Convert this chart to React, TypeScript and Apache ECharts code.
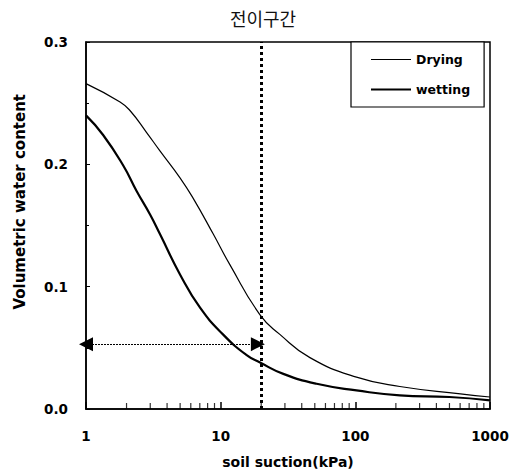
import React, { useEffect, useRef } from "react";
import * as echarts from "echarts";

const titleText = "전이구간";
const xTickLabels = [1, 10, 100, 1000];
const yTicks = [0, 0.1, 0.2, 0.3];

const dryingData: [number, number][] = [
  [1, 0.266], [1.79, 0.251], [2.12, 0.244], [2.82, 0.226], [3.54, 0.211],
  [4.99, 0.189], [6.27, 0.172], [8.81, 0.143], [11.7, 0.118], [19.6, 0.077],
  [27.5, 0.061], [46, 0.042], [102, 0.026], [214, 0.0184], [603, 0.0124],
  [1000, 0.0098],
];

const wettingData: [number, number][] = [
  [1, 0.240], [1.34, 0.224], [1.89, 0.199], [2.38, 0.178], [2.99, 0.159],
  [3.54, 0.143], [4.99, 0.110], [7.01, 0.083], [10.4, 0.061], [15.6, 0.044],
  [19.6, 0.038], [29.2, 0.0287], [51.6, 0.0206], [102, 0.0152], [214, 0.0111],
  [500, 0.0098], [1000, 0.0071],
];

const minorTickPositions = [2, 3, 4, 5, 6, 7, 8, 9, 20, 30, 40, 50, 60, 70, 80, 90, 200, 300, 400, 500, 600, 700, 800, 900];
const transitionLimit = 20;
const arrowRange: [number, number] = [1, 18.9];
const arrowLevel = 0.053;

const FONT = "'DejaVu Sans', sans-serif";

export default function App() {
  const ref = useRef<HTMLDivElement>(null);
  useEffect(() => {
    if (!ref.current) return;
    const chart = echarts.init(ref.current, undefined, { renderer: "svg" });
    chart.setOption({
      animation: false,
      backgroundColor: "#fff",
      title: {
        text: titleText,
        left: 258,
        top: 4,
        textAlign: "center",
        textStyle: { fontFamily: "'Noto Sans CJK KR', sans-serif", fontSize: 18, fontWeight: "normal", color: "#111" },
      },
      grid: { left: 86, right: 25, top: 42, bottom: 62, show: true, borderColor: "#000", borderWidth: 1.5, backgroundColor: "transparent" },
      legend: {
        orient: "vertical",
        left: 351,
        top: 42,
        padding: [11, 14, 11, 20],
        itemGap: 17,
        itemWidth: 40,
        itemHeight: 10,
        borderColor: "#000",
        borderWidth: 1.2,
        backgroundColor: "#fff",
        data: [
          { name: "Drying", icon: "path://M0,0 L40,0 L40,1.2 L0,1.2 Z" },
          { name: "wetting", icon: "path://M0,0 L40,0 L40,2.2 L0,2.2 Z" },
        ],
        textStyle: { fontFamily: FONT, fontWeight: "bold", fontSize: 12.5, color: "#000" },
      },
      xAxis: {
        type: "log",
        logBase: 10,
        min: 1,
        max: 1000,
        name: "soil suction(kPa)",
        nameLocation: "middle",
        nameGap: 46,
        nameTextStyle: { fontFamily: FONT, fontWeight: "bold", fontSize: 14, color: "#000" },
        axisLine: { lineStyle: { color: "#000", width: 1.5 } },
        axisTick: { inside: true, length: 7, lineStyle: { color: "#000", width: 1.5 } },
        axisLabel: {
          margin: 20,
          fontFamily: FONT, fontWeight: "bold", fontSize: 13.5, color: "#000",
          formatter: (v: number) => (xTickLabels.includes(Math.round(v)) ? String(Math.round(v)) : ""),
        },
        splitLine: { show: false },
      },
      yAxis: {
        type: "value",
        min: 0,
        max: 0.3,
        interval: 0.1,
        axisLine: { lineStyle: { color: "#000", width: 1.5 } },
        axisTick: { inside: true, length: 4, lineStyle: { color: "#000" } },
        minorTick: { show: true, splitNumber: 2, length: 3, lineStyle: { color: "#000" } },
        axisLabel: {
          margin: 18,
          fontFamily: FONT, fontWeight: "bold", fontSize: 13.5, color: "#000",
          formatter: (v: number) => (yTicks.some((t) => Math.abs(t - v) < 1e-9) ? v.toFixed(1) : ""),
        },
        splitLine: { show: false },
      },
      graphic: [
        {
          type: "text",
          left: 12,
          top: 94,
          rotation: Math.PI / 2,
          style: { text: "Volumetric water content", fontFamily: FONT, fontWeight: "bold", fontSize: 15, fill: "#000" },
        },
      ],
      series: [
        {
          name: "Drying",
          type: "line",
          data: dryingData,
          smooth: true,
          showSymbol: false,
          symbol: "none",
          lineStyle: { color: "#000", width: 1.2 },
          itemStyle: { color: "#000" },
          markLine: {
            silent: true,
            symbol: ["none", "none"],
            label: { show: false },
            lineStyle: { color: "#000", type: [3, 3], width: 3 },
            data: [{ xAxis: transitionLimit }],
          },
        },
        {
          name: "wetting",
          type: "line",
          data: wettingData,
          smooth: true,
          showSymbol: false,
          symbol: "none",
          lineStyle: { color: "#000", width: 2.2 },
          itemStyle: { color: "#000" },
          markLine: {
            silent: true,
            symbol: ["triangle", "triangle"],
            symbolSize: [14, 14],
            label: { show: false },
            lineStyle: { color: "#000", type: [2, 1], width: 1 },
            data: [[{ coord: [arrowRange[0], arrowLevel] }, { coord: [arrowRange[1], arrowLevel] }]],
          },
        },
        {
          name: "minorTicks",
          type: "scatter",
          data: minorTickPositions.map((p) => [p, 0]),
          symbol: "rect",
          symbolSize: [1.2, 6],
          symbolOffset: [0, -3],
          itemStyle: { color: "#000" },
          silent: true,
          z: 1,
        },
      ],
    });
    return () => chart.dispose();
  }, []);
  return <div ref={ref} style={{ position: "fixed", left: 0, top: 0, width: 515, height: 474 }} />;
}
